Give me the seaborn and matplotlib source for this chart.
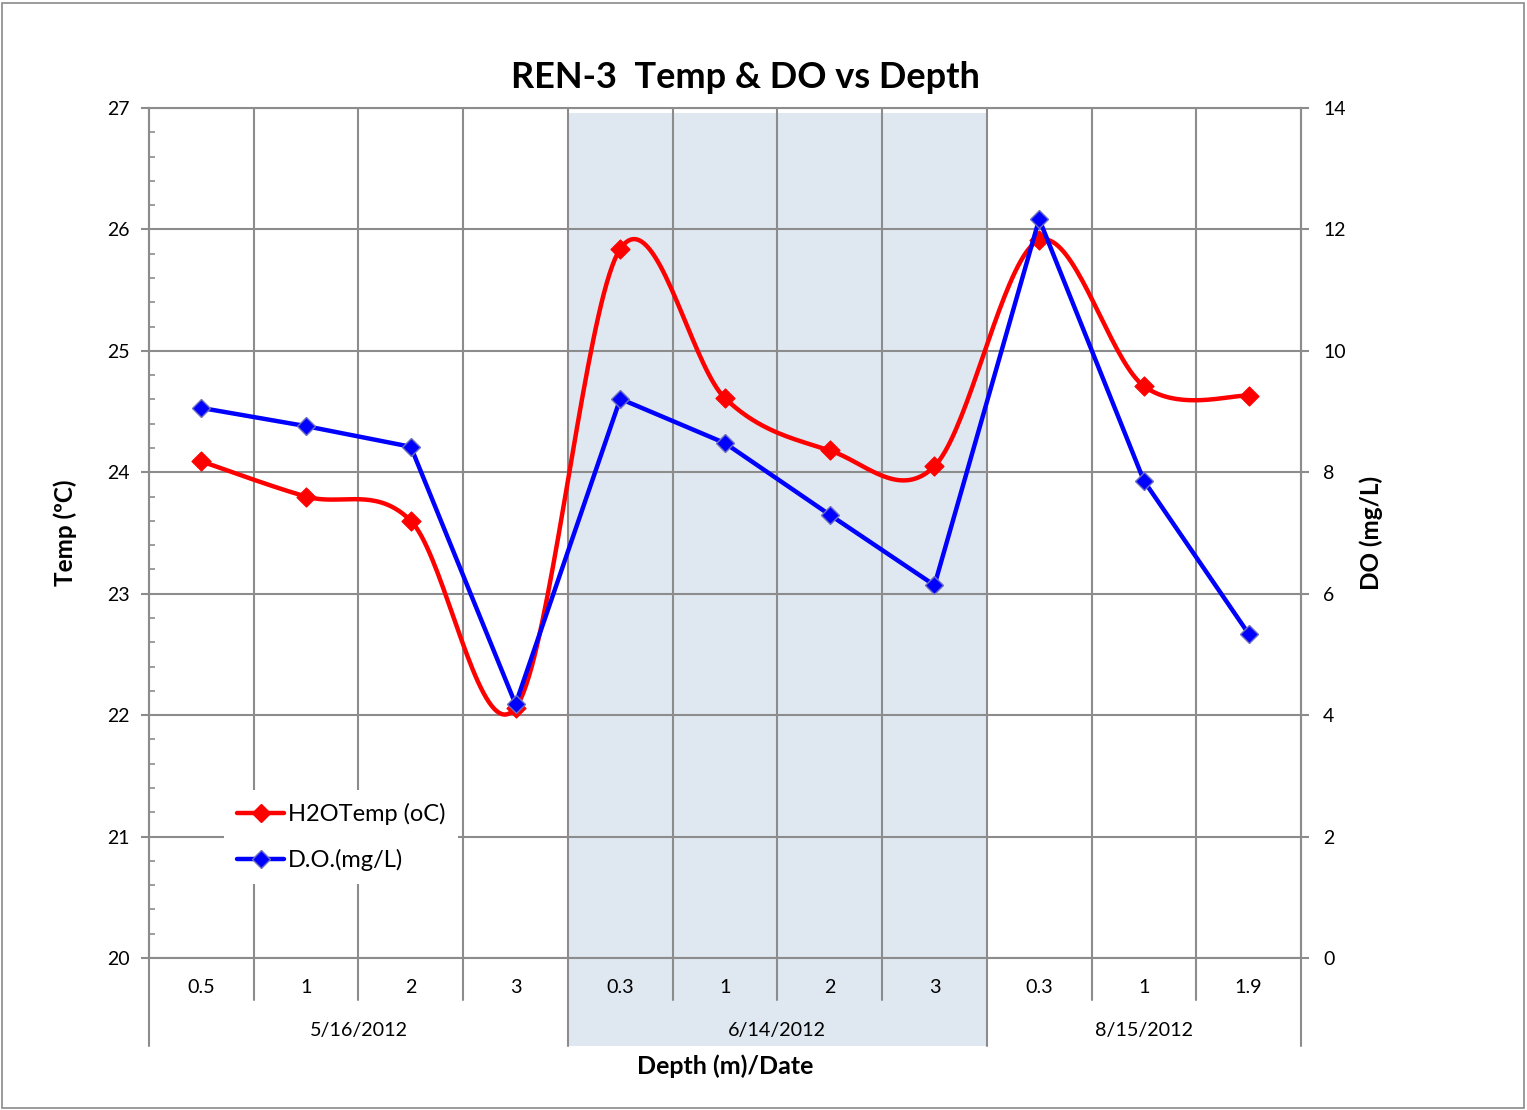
import numpy as np
import pandas as pd
import matplotlib
matplotlib.use("Agg")
import matplotlib.pyplot as plt
import seaborn as sns
from matplotlib.patches import Rectangle
from matplotlib.lines import Line2D

# Sample depths (m) grouped by sampling date
depths = ["0.5", "1", "2", "3", "0.3", "1", "2", "3", "0.3", "1", "1.9"]
dates = ["5/16/2012", "6/14/2012", "8/15/2012"]
group_sizes = [4, 4, 3]

# Water temperature (°C) and dissolved oxygen (mg/L) for each sample
temp = [24.09, 23.80, 23.60, 22.06, 25.84, 24.61, 24.18, 24.05, 25.91, 24.71, 24.63]
dissolved_oxygen = [9.06, 8.76, 8.42, 4.18, 9.21, 8.48, 7.30, 6.14, 12.17, 7.86, 5.34]

temp_ticks = [20, 21, 22, 23, 24, 25, 26, 27]
do_ticks = [0, 2, 4, 6, 8, 10, 12, 14]

GRID = "#8c8c8c"
SHADE = "#dfe7f1"


def smooth_curve(xs, ys, n=40):
    """Bezier smoothing through every point (Catmull-Rom style tangents)."""
    pts = np.column_stack([np.asarray(xs, float), np.asarray(ys, float)])
    ext = np.vstack([pts[0], pts, pts[-1]])
    t = np.linspace(0, 1, n)[:, None]
    parts = []
    for i in range(len(pts) - 1):
        p0, p1, p2, p3 = ext[i], ext[i + 1], ext[i + 2], ext[i + 3]
        c1 = p1 + (p2 - p0) / 6.0
        c2 = p2 - (p3 - p1) / 6.0
        seg = ((1 - t) ** 3) * p1 + 3 * ((1 - t) ** 2) * t * c1 + 3 * (1 - t) * t ** 2 * c2 + t ** 3 * p2
        parts.append(seg if i == 0 else seg[1:])
    return np.vstack(parts)


sns.set_style("white")
plt.rcParams["font.family"] = ["Lato", "DejaVu Sans"]
plt.rcParams["text.color"] = "black"
plt.rcParams["axes.labelcolor"] = "black"
plt.rcParams["xtick.labelcolor"] = "black"
plt.rcParams["ytick.labelcolor"] = "black"

pos = np.arange(len(depths))
df = pd.DataFrame({"pos": pos, "temp": temp, "do": dissolved_oxygen})
curve = smooth_curve(pos, temp)
curve_df = pd.DataFrame({"x": curve[:, 0], "y": curve[:, 1]})

fig = plt.figure(figsize=(15.27, 11.10), dpi=100)
ax = fig.add_axes([149 / 1527, 1 - 958 / 1110, 1152 / 1527, 850 / 1110])
ax2 = ax.twinx()

ax.set_xlim(-0.5, len(depths) - 0.5)
ax.set_ylim(temp_ticks[0], temp_ticks[-1])
ax2.set_ylim(do_ticks[0], do_ticks[-1])

xt = ax.get_xaxis_transform()

# Shaded band for the middle sampling date
start = group_sizes[0] - 0.5
ax.add_patch(Rectangle((start, -0.1035), group_sizes[1], 1.0975, transform=xt,
                       facecolor=SHADE, edgecolor="none", zorder=0, clip_on=False))

# Horizontal gridlines
for v in temp_ticks:
    ax.axhline(v, color=GRID, lw=1.5, zorder=1)

# Category separators, longer at date boundaries
bounds = np.cumsum([0] + group_sizes) - 0.5
for b in np.arange(-0.5, len(depths), 1.0):
    is_group = np.any(np.isclose(b, bounds))
    low = -0.1035 if is_group else -0.0494
    ax.plot([b, b], [low, 1], transform=xt, color=GRID, lw=1.5, clip_on=False, zorder=1)

# Temperature: smoothed line with diamond markers
sns.lineplot(data=curve_df, x="x", y="y", ax=ax, color="#ff0000", lw=3.2,
             sort=False, estimator=None, zorder=3)
sns.scatterplot(data=df, x="pos", y="temp", ax=ax, marker="D", s=95,
                color="#ff0000", edgecolor="#ff0000", linewidth=0.8, zorder=4)

# Dissolved oxygen: straight line with diamond markers
sns.lineplot(data=df, x="pos", y="do", ax=ax2, color="#0000ff", lw=3.2,
             marker="D", markersize=9, markerfacecolor="#0000ff",
             markeredgecolor="#7070c0", markeredgewidth=1.0, zorder=3)

# Axis styling
for name, sp in ax.spines.items():
    sp.set_visible(name in ("left", "bottom", "top"))
    sp.set_color(GRID)
    sp.set_linewidth(1.5)
for name, sp in ax2.spines.items():
    sp.set_visible(name == "right")
    sp.set_color(GRID)
    sp.set_linewidth(1.5)

ax.set_yticks(temp_ticks)
ax.set_yticks(np.arange(20, 27.01, 0.2), minor=True)
ax.tick_params(axis="y", which="major", direction="out", length=6, width=1.5,
               color=GRID, labelsize=14, pad=8, left=True)
ax.tick_params(axis="y", which="minor", direction="in", length=4, width=1.2,
               color=GRID, left=True)
ax.tick_params(axis="x", length=0, labelbottom=False)
ax.set_xticks([])

ax2.set_yticks(do_ticks)
ax2.tick_params(axis="y", direction="out", length=6, width=1.5, color=GRID,
                labelsize=14, pad=10, right=True)

ax.set_xlabel("")
ax.set_ylabel("Temp (ºC)", fontsize=17.5, fontweight="bold")
ax.yaxis.set_label_coords(-0.0625, 0.5)
ax2.set_ylabel("DO (mg/L)", fontsize=17.5, fontweight="bold")
ax2.yaxis.set_label_coords(1.051, 0.5)

# Two-level category labels
for p, lab in zip(pos, depths):
    ax.text(p, -0.035, lab, transform=xt, ha="center", va="center", fontsize=14.2)
edges = np.cumsum([0] + group_sizes)
for i, d in enumerate(dates):
    mid = (edges[i] + edges[i + 1] - 1) / 2
    ax.text(mid, -0.085, d, transform=xt, ha="center", va="center", fontsize=14.2)

ax.text(0.5, -0.127, "Depth (m)/Date", transform=ax.transAxes, ha="center",
        va="center", fontsize=18, fontweight="bold")

fig.text(745 / 1527, 1 - 77 / 1110, "REN-3  Temp & DO vs Depth", ha="center",
         va="center", fontsize=26, fontweight="bold", color="black")

handles = [
    Line2D([], [], color="#ff0000", lw=3.2, marker="D", markersize=9,
           markerfacecolor="#ff0000", markeredgecolor="#ff0000"),
    Line2D([], [], color="#0000ff", lw=3.2, marker="D", markersize=9,
           markerfacecolor="#0000ff", markeredgecolor="#7070c0"),
]
leg = ax2.legend(handles, ["H2OTemp (oC)", "D.O.(mg/L)"], loc="center left",
                 bbox_to_anchor=(0.055, 0.142), fontsize=17,
                 frameon=True, fancybox=False, framealpha=1, handlelength=2.0,
                 handletextpad=0.15, borderpad=0.55, labelspacing=1.0)
leg.get_frame().set_facecolor("white")
leg.get_frame().set_edgecolor("none")
leg.set_zorder(10)

# Outer chart border
fig.add_artist(Rectangle((2 / 1527, 2 / 1110), 1522 / 1527, 1105 / 1110,
                         transform=fig.transFigure, fill=False,
                         edgecolor="#8a8a8a", lw=1.2))

fig.savefig("out.png", dpi=100)
